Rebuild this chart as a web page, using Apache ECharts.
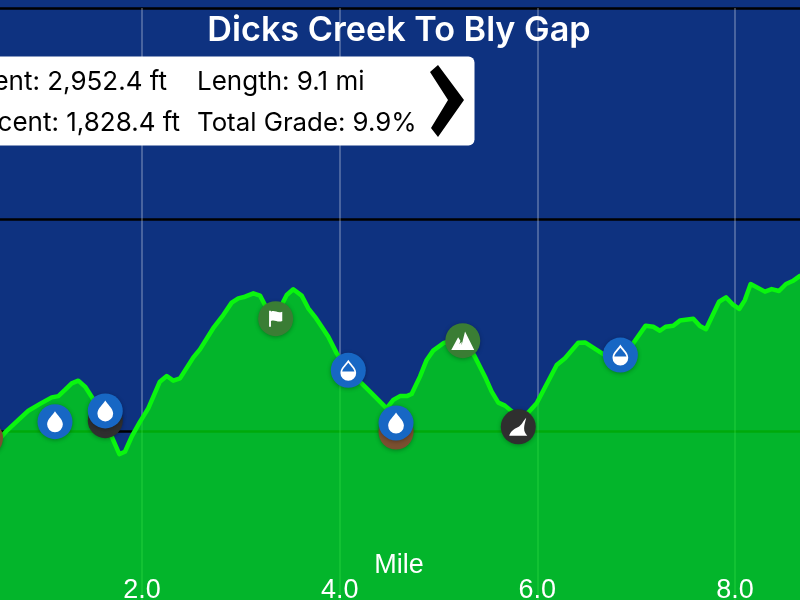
<!DOCTYPE html>
<html><head><meta charset="utf-8">
<style>html,body{margin:0;padding:0;background:#0E3280}#c{width:800px;height:600px}</style>
<script src="https://cdn.jsdelivr.net/npm/echarts@6/dist/echarts.min.js"></script></head>
<body><div id="c"></div>
<script>
const titleText = 'Dicks Creek To Bly Gap';
const statsLeft = ['Ascent: 2,952.4 ft', 'Descent: 1,828.4 ft'];
const statsRight = ['Length: 9.1 mi', 'Total Grade: 9.9%'];
const miles = [0,.45,.563,.63,.73,.85,.967,1.086,1.153,1.22,1.288,1.355,1.423,1.49,1.541,1.608,1.693,1.77,1.827,1.895,1.98,2.063,2.18,2.25,2.316,2.384,2.519,2.586,2.72,2.822,2.907,2.974,3.042,3.126,3.194,3.244,3.312,3.38,3.429,3.464,3.53,3.615,3.682,3.75,3.818,3.885,3.97,4.087,4.222,4.324,4.475,4.542,4.61,4.678,4.728,4.812,4.88,4.946,5.048,5.15,5.285,5.368,5.47,5.538,5.605,5.672,5.807,5.908,5.993,6.196,6.28,6.414,6.482,6.667,6.84,6.97,7.096,7.173,7.24,7.298,7.375,7.443,7.578,7.645,7.706,7.838,7.909,7.983,8.043,8.1,8.158,8.303,8.371,8.445,8.516,8.583,8.657,9.1];
const elevation = [2675,2905,2965,3001,3044,3096,3128,3159,3165,3194,3225,3238,3210,3162,3123,3068,2973,2891,2902,2973,3044,3107,3233,3260,3238,3249,3348,3386,3486,3548,3607,3627,3635,3651,3640,3596,3556,3564,3611,3643,3670,3640,3580,3540,3493,3446,3367,3280,3225,3178,3107,3147,3165,3165,3175,3257,3336,3380,3415,3430,3415,3351,3257,3186,3134,3120,3068,3087,3131,3312,3344,3417,3419,3363,3351,3415,3498,3493,3474,3493,3498,3522,3531,3496,3481,3611,3632,3596,3577,3619,3695,3659,3671,3662,3695,3709,3733,3840];
const brownPts = [[.416,2967],[4.57,2995]];
const darkBehind = [[1.628,3049]];
const shelterPts = [[5.807,3020]];
const dropPts = [[1.119,3044],[1.628,3095],[4.57,3038]];
const halfDropPts = [[4.087,3287],[6.84,3359]];
const flagPts = [[3.352,3531]];
const peakPts = [[5.245,3427]];

const ICON_DROP = 'path://M9 0 C11 4 18 9 18 15 A9 9 0 0 1 0 15 C0 9 7 4 9 0 Z';
const ICON_HALF = 'path://M9 0 C11 4 18 9 18 15 A9 9 0 0 1 0 15 C0 9 7 4 9 0 Z M9 3.5 C7.5 6 3 9.5 2 13.5 L16 13.5 C15 9.5 10.5 6 9 3.5 Z';
const ICON_FLAG = 'path://M0 0 L2 0 L2 1 C6 -1 9 3 14 1 L14 11 C9 13 6 9 2 11 L2 17 L0 17 Z';
const ICON_PEAK = 'path://M0 16 L6 5 L8 8 L7 11 L9 9 L9 12 L12 0 L20 16 Z';
const ICON_SHELTER = 'path://M0 17 C1 13 4 11 8 9 C12 7 13 3 16 0 C15 4 14 7 14 10 C14 13 15 15 17 17 Z';

const ink = '#ffffff';
const mark = (name, data, color) => ({type:'scatter', name, data, symbol:'circle', symbolSize:35, z:3,
  itemStyle:{color, opacity:1, shadowBlur:4, shadowColor:'rgba(0,0,0,0.3)', shadowOffsetY:1}});
const icon = (name, data, symbol, size) => ({type:'scatter', name, data, symbol, symbolSize:size, symbolKeepAspect:true, z:4,
  itemStyle:{color:ink, opacity:1}});

const chart = echarts.init(document.getElementById('c'), null, {renderer:'canvas'});
chart.setOption({
  animation:false,
  backgroundColor:'#0E3280',
  textStyle:{fontFamily:'Inter, "Liberation Sans", sans-serif'},
  title:{text:titleText, left:394, top:9, textAlign:'center',
    textStyle:{color:'#fff', fontSize:34.2, fontWeight:600, fontFamily:'Inter'}},
  grid:{left:-55.6, top:8, width:909.2, height:634.5, containLabel:false, outerBoundsMode:'none'},
  xAxis:[
   {type:'value', min:0, max:9.2, interval:2, position:'bottom', z:0,
    axisLine:{show:false}, axisTick:{show:false}, axisLabel:{show:false},
    splitLine:{show:true, lineStyle:{color:'rgba(255,255,255,0.33)', width:1.5}}},
   {type:'value', min:0, max:9.2, interval:2, position:'bottom', z:6,
    name:'Mile', nameLocation:'middle', nameGap:-90, nameMoveOverlap:false,
    nameTextStyle:{color:'#fff', fontSize:27, fontFamily:'Liberation Sans'},
    axisLine:{show:false}, axisTick:{show:false}, splitLine:{show:false},
    axisLabel:{inside:true, margin:38, color:'#fff', fontSize:27, fontFamily:'Liberation Sans',
      formatter:v=>v.toFixed(1)}}
  ],
  yAxis:{type:'value', min:2000, max:5000, interval:1000,
    axisLine:{show:false}, axisTick:{show:false}, axisLabel:{show:false},
    splitLine:{show:true, lineStyle:{color:'#000', width:2.5}}},
  series:[
    {type:'line', name:'Elevation', data:miles.map((m,i)=>[m,elevation[i]]), symbol:'none', z:2,
     lineStyle:{color:'#0AF50F', width:4.5, join:'round'},
     areaStyle:{color:'rgb(0,226,15)', opacity:0.75}},
    mark('Resupply', brownPts, '#7A4F30'),
    mark('Road', darkBehind, '#2F2F2F'),
    mark('Shelter', shelterPts, '#2F2F2F'),
    mark('Water', dropPts, '#1767C4'),
    mark('Seasonal water', halfDropPts, '#1767C4'),
    mark('Landmark', flagPts, '#3A7D34'),
    mark('Peak', peakPts, '#3A7D34'),
    icon('i-drop', dropPts, ICON_DROP, 21),
    icon('i-half', halfDropPts, ICON_HALF, 21),
    icon('i-flag', flagPts, ICON_FLAG, 16),
    icon('i-peak', peakPts, ICON_PEAK, 23),
    icon('i-shelter', shelterPts, ICON_SHELTER, 18)
  ],
  graphic:[
    {type:'rect', z:10, shape:{x:-20,y:56.5,width:494.5,height:89,r:6}, style:{fill:'#fff'}},
    {type:'text', z:11, style:{x:167,y:82,text:statsLeft[0],align:'right',verticalAlign:'middle',fill:'#000',font:'26px Inter'}},
    {type:'text', z:11, style:{x:180,y:123,text:statsLeft[1],align:'right',verticalAlign:'middle',fill:'#000',font:'26px Inter'}},
    {type:'text', z:11, style:{x:197,y:82,text:statsRight[0],align:'left',verticalAlign:'middle',fill:'#000',font:'26px Inter'}},
    {type:'text', z:11, style:{x:197,y:123,text:statsRight[1],align:'left',verticalAlign:'middle',fill:'#000',font:'25.8px Inter'}},
    {type:'polygon', z:11, shape:{points:[[430,72],[438,65],[464,100],[438,137],[431,128],[448,100]]}, style:{fill:'#000'}}
  ]
});
</script></body></html>
